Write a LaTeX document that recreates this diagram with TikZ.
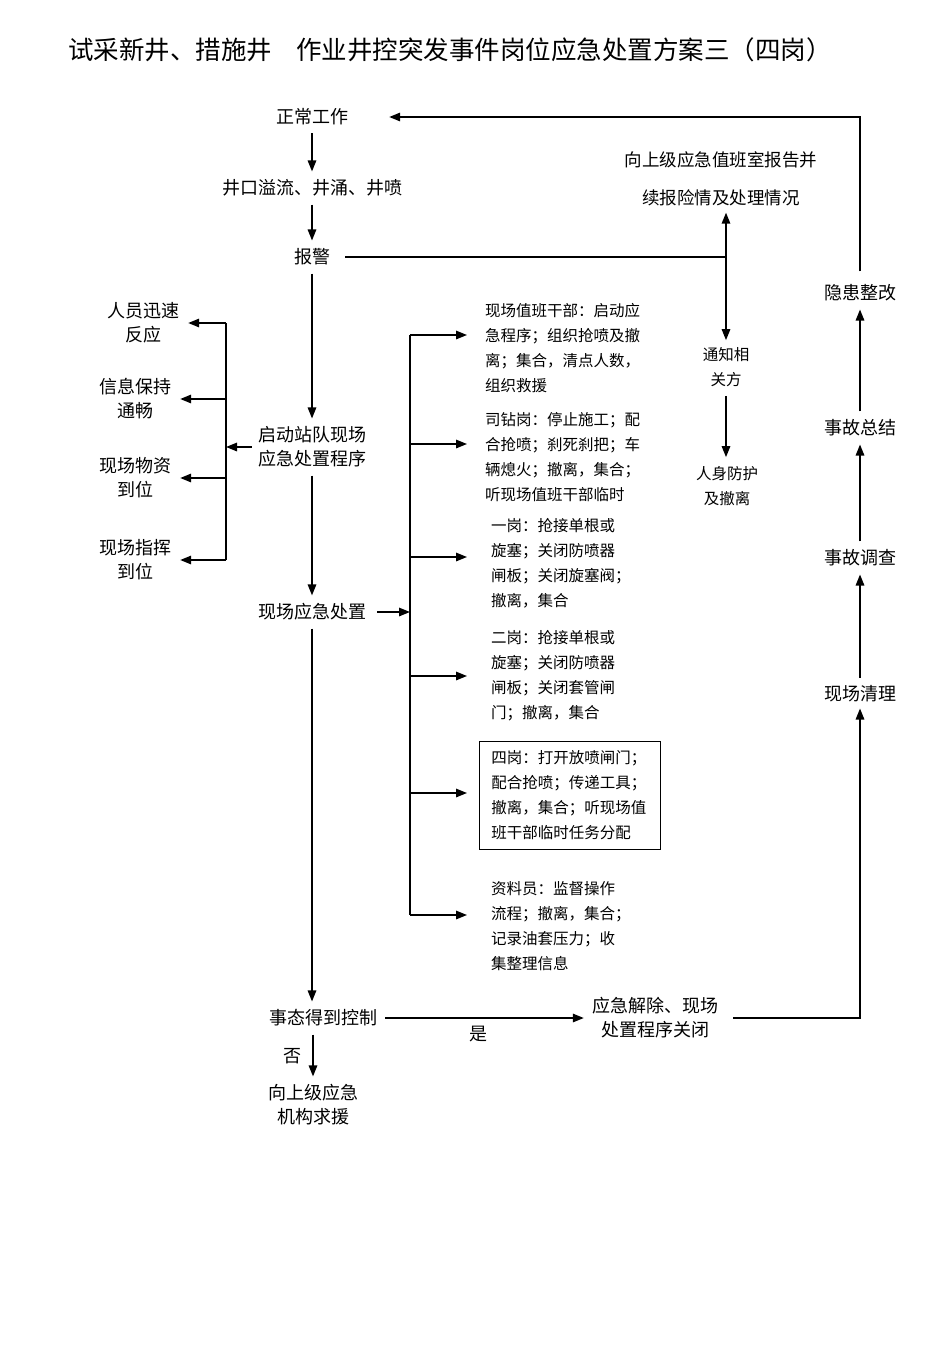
\documentclass[tikz,border=0pt]{standalone}
\usepackage{fontspec}
\setmainfont{Noto Sans CJK SC}
\usetikzlibrary{arrows.meta}
\tikzset{
  arr/.style={-{Triangle[length=11pt,width=8.5pt]}, line width=1.5pt},
  gap/.style={arr, shorten <=5pt, shorten >=5pt},
  ln/.style={line width=1.5pt},
  big/.style={font=\fontsize{18}{24}\selectfont, align=center, inner sep=3pt},
  side/.style={big, inner xsep=9pt},
  small/.style={font=\fontsize{15.5}{25}\selectfont, align=left, inner sep=0pt, anchor=west},
  note/.style={font=\fontsize{15.5}{25}\selectfont, align=center, inner sep=4pt},
}
\begin{document}
\begin{tikzpicture}[x=1pt, y=-1pt]
  \useasboundingbox (0,0) rectangle (950,1346);
  % Titel
  \node[anchor=west, font=\fontsize{25.5}{30}\selectfont, inner sep=0pt] (title) at (68,50)
    {试采新井、措施井\hspace{24pt}作业井控突发事件岗位应急处置方案三（四岗）};
  % Hauptspalte
  \node[big] (zc) at (312,117)  {正常工作};
  \node[big] (jk) at (312,188)  {井口溢流、井涌、井喷};
  \node[big] (bj) at (312,257)  {报警};
  \node[big] (qd) at (312,447)  {启动站队现场\\应急处置程序};
  \node[big] (xc) at (312,612)  {现场应急处置};
  \node[big] (kz) at (323,1018) {事态得到控制};
  \node[big] (qy) at (313,1105) {向上级应急\\机构求援};
  \node[big] (no) at (292,1056) {否};
  \draw[gap] (zc) -- (jk);
  \draw[gap] (jk) -- (bj);
  \draw[gap] (bj) -- (qd);
  \draw[gap] (qd) -- (xc);
  \draw[gap] (xc) -- (xc |- kz.north);
  \draw[gap] (kz.south -| qy) -- (qy);
  % Meldung und Benachrichtigung
  \node[font=\fontsize{17.5}{38}\selectfont, align=center] (rpt) at (721,179)
    {向上级应急值班室报告并\\续报险情及处理情况};
  \node[note] (tz) at (726,367) {通知相\\关方};
  \node[note] (rs) at (727,486) {人身防护\\及撤离};
  \coordinate (jn) at (726,257);
  \draw[ln, shorten <=12pt] (bj) -- (jn);
  \draw[arr, shorten >=3pt] (jn) -- (jn |- rpt.south);
  \draw[arr, shorten >=3pt] (jn) -- (tz);
  \draw[gap] (tz) -- (tz |- rs.north);
  % linke Verteilung
  \node[side] (ry) at (143,323) {人员迅速\\反应};
  \node[side] (xx) at (135,399) {信息保持\\通畅};
  \node[side] (wz) at (135,478) {现场物资\\到位};
  \node[side] (zh) at (135,560) {现场指挥\\到位};
  \coordinate (lx) at (226,447);
  \draw[ln] (lx |- ry) -- (lx |- zh);
  \draw[arr, shorten <=3pt] (qd) -- (lx);
  \foreach \n in {ry,xx,wz,zh}{ \draw[arr] (lx |- \n) -- (\n); }
  % rechte Verteilung: Aufgaben der Posten
  \node[small] (b1) at (485,348.5) {现场值班干部：启动应\\急程序；组织抢喷及撤\\离；集合，清点人数，\\组织救援};
  \node[small] (b2) at (485,457.5) {司钻岗：停止施工；配\\合抢喷；刹死刹把；车\\辆熄火；撤离，集合；\\听现场值班干部临时};
  \node[small] (b3) at (491,563.5) {一岗：抢接单根或\\旋塞；关闭防喷器\\闸板；关闭旋塞阀；\\撤离，集合};
  \node[small] (b4) at (491,675.5) {二岗：抢接单根或\\旋塞；关闭防喷器\\闸板；关闭套管闸\\门；撤离，集合};
  \node[small, draw, line width=0.8pt, inner xsep=12pt, text width=157pt, minimum height=108pt]
    (b5) at (479,795) {四岗：打开放喷闸门；\\配合抢喷；传递工具；\\撤离，集合；听现场值\\班干部临时任务分配};
  \node[small] (b6) at (491,926.5) {资料员：监督操作\\流程；撤离，集合；\\记录油套压力；收\\集整理信息};
  \coordinate (rx) at (410,612);
  \foreach \y [count=\i] in {335,444,557,676,793,915}{ \coordinate (t\i) at (467,\y); }
  \draw[ln] (t1 -| rx) -- (t6 -| rx);
  \draw[arr, shorten <=8pt] (xc) -- (rx);
  \foreach \i in {1,...,6}{ \draw[arr] (t\i -| rx) -- (t\i); }
  % Abschluss und Nachbereitung
  \node[big] (jc) at (655,1018) {应急解除、现场\\处置程序关闭};
  \node[big] (yes) at (478,1034) {是};
  \node[big] (ql) at (860,694) {现场清理};
  \node[big] (dc) at (860,558) {事故调查};
  \node[big] (zj) at (860,428) {事故总结};
  \node[big] (yh) at (860,293) {隐患整改};
  \draw[gap] (kz) -- (jc);
  \draw[arr, shorten <=12pt, shorten >=3pt] (jc.east) -| (ql);
  \draw[gap] (ql) -- (dc);
  \draw[gap] (dc) -- (zj);
  \draw[gap] (zj) -- (yh);
  \draw[arr, shorten <=10pt, shorten >=38pt] (yh) |- (zc);
\end{tikzpicture}
\end{document}
